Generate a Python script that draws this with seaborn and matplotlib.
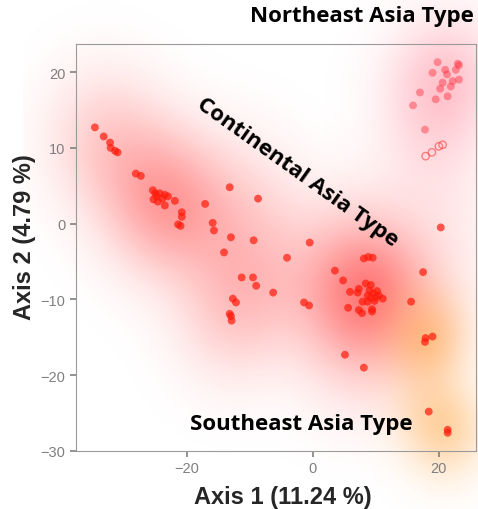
import numpy as np
import seaborn as sns
import matplotlib.pyplot as plt

# Continental Asia type samples
cont_x = [-34.6, -33.2, -32.2, -32.1, -31.4, -31.0, -28.1, -27.3, -25.4,
          -25.3, -24.8, -24.3, -23.9, -24.6, -23.5, -25.0, -23.5, -23.0, -21.9,
          -20.8, -20.8, -21.4, -21.0, -17.1, -15.9, -15.7, -14.1, -13.0, -13.2,
          -9.4, -8.7, -11.3, -9.5, -9.0, -6.3, -12.7, -12.2, -13.2, -13.0, -12.9,
          -0.5, -4.1, -1.4, -0.6, 3.5, 4.8, 5.6, 5.9, 7.1, 7.3, 8.4, 9.2,
          8.1, 8.8, 9.5, 9.0, 9.6, 10.2, 10.5, 9.2, 9.8, 8.7, 10.0, 11.1,
          7.9, 8.7, 9.4, 9.4, 7.3, 7.8, 15.6, 17.5, 20.3, 5.1, 8.1]
cont_y = [12.7, 11.5, 10.7, 10.0, 9.6, 9.4, 6.6, 6.3, 4.4,
          3.2, 3.6, 4.0, 3.3, 2.9, 3.8, 4.0, 2.4, 3.6, 3.0,
          1.5, 0.9, -0.1, -0.3, 2.6, 0.1, -0.9, -3.8, -1.8, 4.8,
          -2.2, 3.3, -7.1, -7.1, -8.2, -9.1, -9.9, -10.4, -11.9, -12.2, -12.8,
          -2.5, -4.5, -10.4, -10.8, -6.2, -7.5, -11.1, -9.0, -9.1, -8.6, -7.9, -8.1,
          -4.6, -4.4, -4.5, -8.8, -9.2, -8.9, -9.5, -9.8, -10.2, -9.5, -9.7, -9.9,
          -10.3, -10.3, -11.3, -11.6, -11.4, -11.8, -10.3, -6.4, -0.5, -17.3, -19.0]

# Northeast Asia type samples
ne_x = [19.8, 23.0, 23.2, 21.0, 19.0, 21.3, 22.7, 20.6, 22.2, 23.2,
        20.2, 21.9, 17.0, 19.5, 21.4, 15.9, 17.8]
ne_y = [21.3, 21.1, 20.9, 20.3, 19.9, 19.7, 20.3, 18.6, 18.8, 19.0,
        17.8, 18.1, 17.3, 16.4, 16.8, 15.6, 12.4]
ne_open_x = [17.9, 18.9, 20.0, 20.6]
ne_open_y = [8.9, 9.4, 10.2, 10.4]

# Southeast Asia type samples
se_x = [17.8, 17.9, 19.0, 18.4, 21.4, 21.4]
se_y = [-15.6, -15.1, -14.9, -24.8, -27.2, -27.6]

sns.set_style("ticks")
plt.rcParams["font.family"] = ["Liberation Sans", "DejaVu Sans"]

fig, ax = plt.subplots(figsize=(4.78, 5.10), dpi=100)
fig.subplots_adjust(left=76 / 478, right=476 / 478, bottom=58 / 510, top=465 / 510)

# soft glow behind each group: isotropic gaussian density of its points
gx = np.linspace(-46, 33, 320)
gy = np.linspace(-38, 32, 300)
GX, GY = np.meshgrid(gx, gy)


def glow(xs, ys, sigma, rgb, amax, gamma):
    d = np.zeros_like(GX)
    for x, y in zip(xs, ys):
        d += np.exp(-((GX - x) ** 2 + (GY - y) ** 2) / (2 * sigma ** 2))
    d = (d / d.max()) ** gamma
    img = np.zeros(GX.shape + (4,))
    img[..., :3] = rgb
    img[..., 3] = amax * d
    im = ax.imshow(img, extent=(gx[0], gx[-1], gy[0], gy[-1]), origin="lower",
                   aspect="auto", interpolation="bilinear", zorder=0)
    im.set_clip_on(False)


glow(cont_x, cont_y, 5.5, (1.0, 0.05, 0.05), 0.55, 0.7)
glow(ne_x + ne_open_x, ne_y + ne_open_y, 5.5, (1.0, 0.3, 0.4), 0.34, 0.9)
glow(se_x, se_y, 4.0, (1.0, 0.62, 0.2), 0.5, 0.8)

sns.scatterplot(x=cont_x + se_x, y=cont_y + se_y, color="#ff1a0a", alpha=0.7,
                s=32, edgecolor="none", ax=ax)
sns.scatterplot(x=ne_x, y=ne_y, color="#ff3040", alpha=0.45,
                s=32, edgecolor="none", ax=ax)
ax.scatter(ne_open_x, ne_open_y, s=28, facecolor="none", edgecolor="#ff4040",
           alpha=0.6, linewidth=1.0)

ax.set_xlim(-37.6, 25.9)
ax.set_ylim(-30, 23.7)
ax.set_xticks([-20, 0, 20])
ax.set_yticks([-30, -20, -10, 0, 10, 20])
for s in ax.spines.values():
    s.set_color("#9a9a9a")
ax.tick_params(colors="#7f7f7f", labelsize=10.5, length=4, width=1.2)

ax.set_xlabel("Axis 1 (11.24 %)", fontsize=17, fontweight="bold")
ax.set_ylabel("Axis 2 (4.79 %)", fontsize=17, fontweight="bold")
ax.xaxis.set_label_coords(0.518, -0.083)
ax.yaxis.set_label_coords(-0.1, 0.528)

lab = dict(fontsize=16, fontweight="bold", family=["Open Sans", "DejaVu Sans"], color="black")
ax.text(0.715, 1.07, "Northeast Asia Type", transform=ax.transAxes,
        ha="center", va="center", **lab)
ax.text(-2.4, 6.9, "Continental Asia Type", rotation=-35.5, rotation_mode="anchor",
        ha="center", va="center", **lab)
ax.text(-1.9, -26.4, "Southeast Asia Type", ha="center", va="center", **lab)

plt.savefig("out.png", dpi=100)
